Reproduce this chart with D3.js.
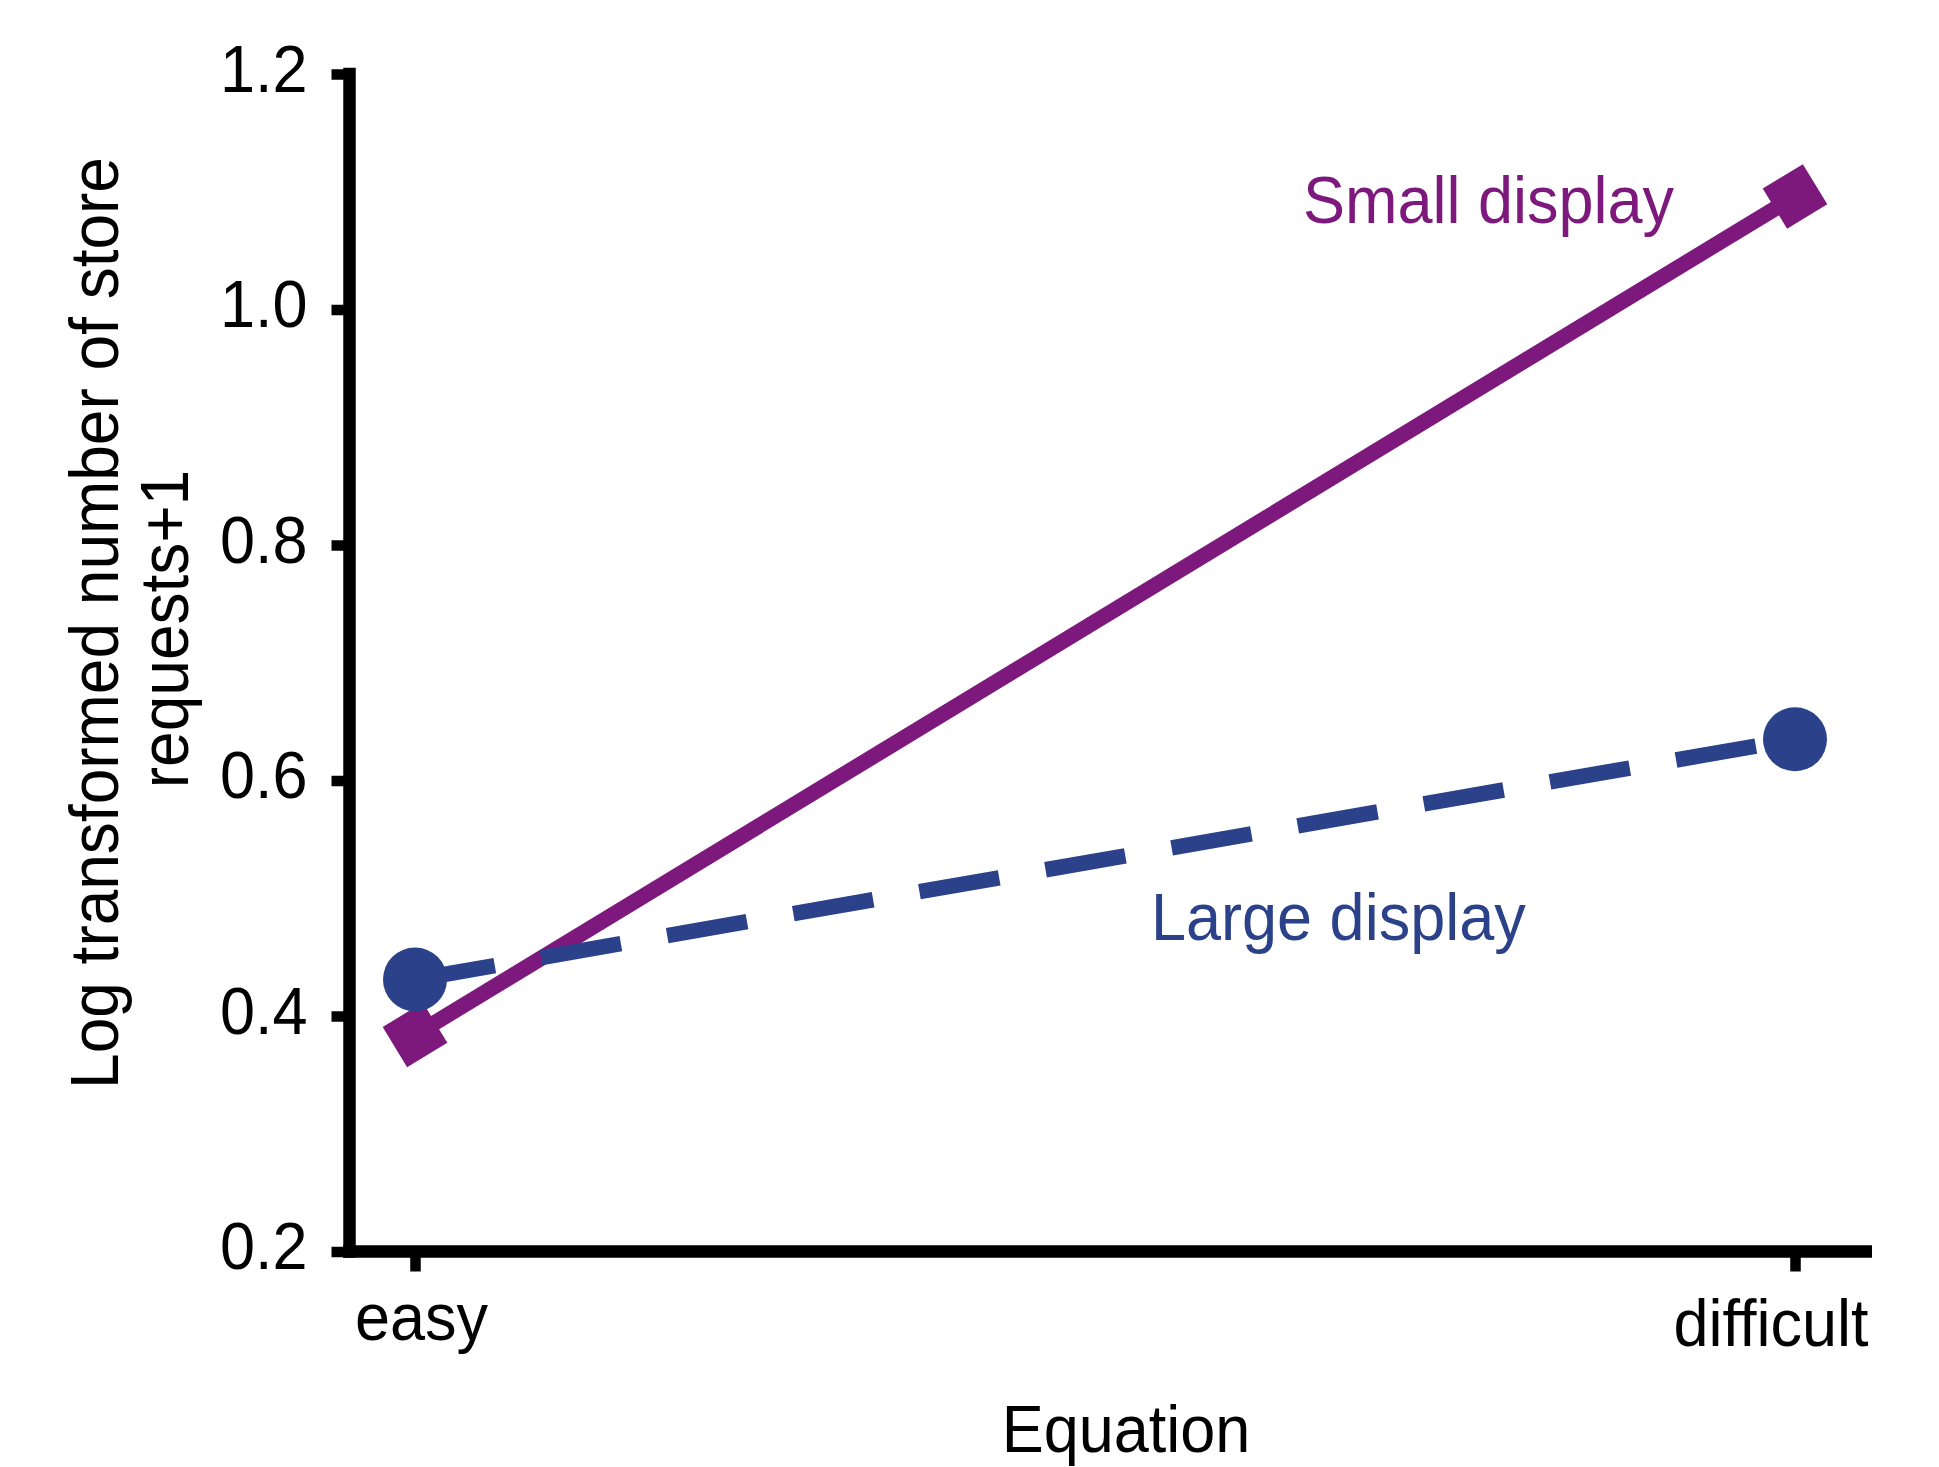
<!DOCTYPE html>
<html>
<head>
<meta charset="utf-8">
<script src="https://cdn.jsdelivr.net/npm/d3@7"></script>
<style>
  html, body { margin: 0; padding: 0; background: #fff; }
  svg { display: block; }
  text { font-family: "Liberation Sans", Arial, Helvetica, sans-serif; }
</style>
</head>
<body>
<script>
// ---- data ----
const categories = ["easy", "difficult"];
const smallDisplay = [0.384, 1.096];
const largeDisplay = [0.431, 0.635];
const seriesNames = ["Small display", "Large display"];
const yTicks = [0.2, 0.4, 0.6, 0.8, 1.0, 1.2];
const xTitle = "Equation";
const yTitleLines = ["Log transformed number of store", "requests+1"];

// ---- layout ----
const W = 1939, H = 1467;
const FS = 63, KY = 1.07;
const purple = "#7D197D", blue = "#2B418A";

const svg = d3.select("body").append("svg").attr("width", W).attr("height", H);

const x = d3.scalePoint().domain(categories).range([415, 1795]).padding(0);
const y = d3.scaleLinear().domain([0.2, 1.2]).range([1251.5, 74]);
const axisX = 349.5;

// Y axis
const gy = svg.append("g").attr("transform", `translate(${axisX},0)`)
  .call(d3.axisLeft(y).tickValues(yTicks).tickFormat(d3.format(".1f")).tickSize(18).tickSizeOuter(0).tickPadding(24));
gy.select(".domain").remove();
gy.selectAll(".tick line").attr("stroke", "#000").attr("stroke-width", 10.5);
gy.selectAll(".tick text")
  .attr("font-size", FS).attr("fill", "#000")
  .attr("dy", null).attr("y", 0)
  .attr("transform", `translate(0,17) scale(1,${KY})`);
svg.append("line")
  .attr("x1", axisX).attr("x2", axisX)
  .attr("y1", y(1.2)).attr("y2", y(0.2))
  .attr("stroke", "#000").attr("stroke-width", 12.5).attr("stroke-linecap", "square");

// X axis
const axisY = y(0.2);
const gx = svg.append("g").attr("transform", `translate(0,${axisY})`)
  .call(d3.axisBottom(x).tickSize(20).tickSizeOuter(0));
gx.select(".domain").remove();
gx.selectAll(".tick line").attr("stroke", "#000").attr("stroke-width", 10.5);
gx.selectAll(".tick text")
  .attr("font-size", FS).attr("fill", "#000")
  .attr("dy", null).attr("y", 0)
  .attr("text-anchor", d => d === categories[categories.length - 1] ? "end" : "middle")
  .attr("transform", d => d === categories[categories.length - 1]
      ? `translate(73,94.5) scale(1,${KY})`
      : `translate(6,88.5) scale(1,${KY})`);
svg.append("line")
  .attr("x1", 343).attr("x2", 1872)
  .attr("y1", axisY).attr("y2", axisY)
  .attr("stroke", "#000").attr("stroke-width", 12.5);

// Axis titles
svg.append("text")
  .attr("transform", `translate(1126,1452) scale(1,${KY})`)
  .attr("text-anchor", "middle").attr("font-size", FS).attr("fill", "#000")
  .text(xTitle);
yTitleLines.forEach((t, i) => {
  svg.append("text")
    .attr("transform", `translate(${117.5 + i * 70.5},${i === 0 ? 623 : 629}) rotate(-90) scale(1,${KY})`)
    .attr("text-anchor", "middle").attr("font-size", 64).attr("fill", "#000")
    .text(t);
});

// Series
const line = d3.line().x(d => x(d.cat)).y(d => y(d.v));
const smallPts = categories.map((c, i) => ({cat: c, v: smallDisplay[i]}));
const largePts = categories.map((c, i) => ({cat: c, v: largeDisplay[i]}));

// Small display (solid, rotated squares)
svg.append("path").datum(smallPts).attr("d", line)
  .attr("fill", "none").attr("stroke", purple).attr("stroke-width", 15.5);
const ang = Math.atan2(y(smallDisplay[1]) - y(smallDisplay[0]), x(categories[1]) - x(categories[0])) * 180 / Math.PI;
const sq = 47;
svg.selectAll(".sq").data(smallPts).enter().append("rect")
  .attr("x", -sq / 2).attr("y", -sq / 2).attr("width", sq).attr("height", sq)
  .attr("fill", purple)
  .attr("transform", d => `translate(${x(d.cat)},${y(d.v)}) rotate(${ang})`);

// Large display (dashed, circles)
svg.append("path").datum(largePts).attr("d", line)
  .attr("fill", "none").attr("stroke", blue).attr("stroke-width", 15.5)
  .attr("stroke-dasharray", "81,47");
svg.selectAll(".ci").data(largePts).enter().append("circle")
  .attr("cx", d => x(d.cat)).attr("cy", d => y(d.v)).attr("r", 32)
  .attr("fill", blue);

// Series labels
svg.append("text")
  .attr("transform", `translate(1303,222.7) scale(1,${KY})`)
  .attr("font-size", FS).attr("fill", purple).text(seriesNames[0]);
svg.append("text")
  .attr("transform", `translate(1151,940) scale(1,${KY})`)
  .attr("font-size", FS).attr("fill", blue).text(seriesNames[1]);
</script>
</body>
</html>
